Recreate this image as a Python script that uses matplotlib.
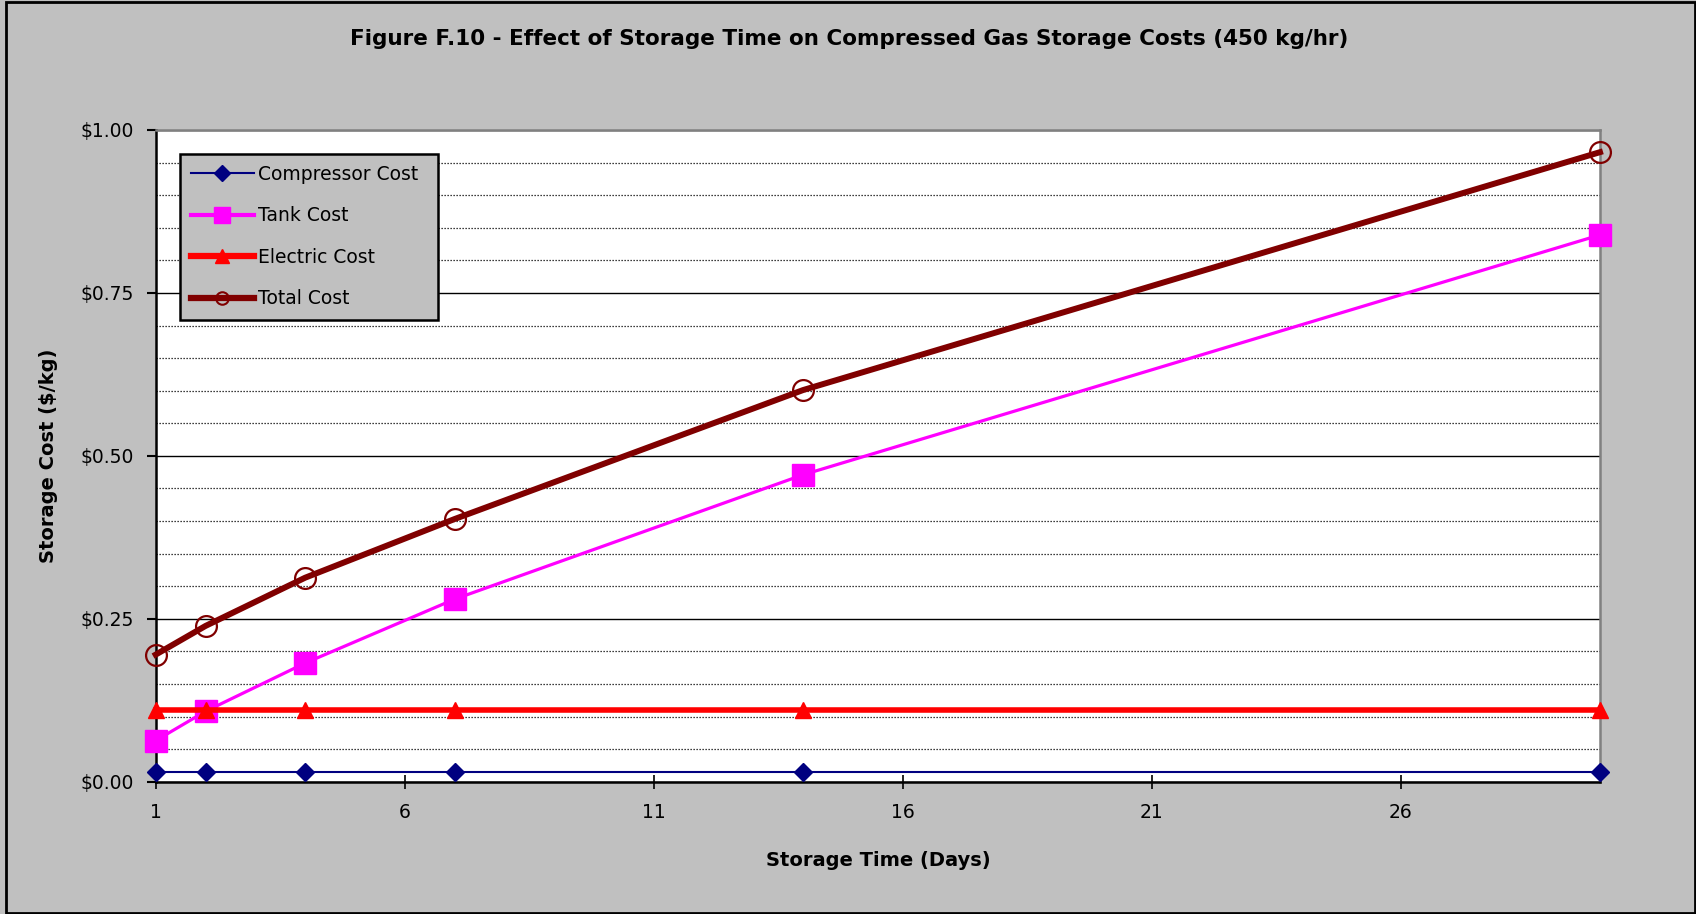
import matplotlib
matplotlib.use("Agg")
import matplotlib.pyplot as plt
from matplotlib.lines import Line2D
from matplotlib.patches import Rectangle
from matplotlib.ticker import FuncFormatter, MultipleLocator

# ---- data ----
storage_days = [1, 2, 4, 7, 14, 30]
compressor_cost = [0.015, 0.015, 0.015, 0.015, 0.015, 0.015]
tank_cost = [0.063, 0.108, 0.182, 0.280, 0.471, 0.839]
electric_cost = [0.110, 0.110, 0.110, 0.110, 0.110, 0.110]
total_cost = [0.195, 0.239, 0.313, 0.403, 0.601, 0.966]
series_labels = ["Compressor Cost", "Tank Cost", "Electric Cost", "Total Cost"]
x_ticks = [1, 6, 11, 16, 21, 26]
y_ticks = [0.0, 0.25, 0.50, 0.75, 1.00]
title = "Figure F.10 - Effect of Storage Time on Compressed Gas Storage Costs (450 kg/hr)"
x_label = "Storage Time (Days)"
y_label = "Storage Cost ($/kg)"

plt.rcParams['font.family'] = ['DejaVu Sans']

W, H = 1696, 914
fig = plt.figure(figsize=(W / 100, H / 100), dpi=100)
fig.patch.set_facecolor('#C0C0C0')

# axes placement (pixels)
L, R, T, B = 155.7, 1600, 130, 781.7
ax = fig.add_axes([L / W, 1 - B / H, (R - L) / W, (B - T) / H])
ax.set_facecolor('white')

# grid
ax.set_xlim(1, 30)
ax.set_ylim(0, 1.0)
ax.set_yticks(y_ticks)
ax.yaxis.set_minor_locator(MultipleLocator(0.05))
ax.set_xticks(x_ticks)
ax.grid(which='minor', axis='y', color='black', linestyle=(0, (1.0, 1.4)), linewidth=0.9)
ax.grid(which='major', axis='y', color='black', linestyle='-', linewidth=1.0)
ax.grid(which='major', axis='x', visible=False)
ax.set_axisbelow(True)

# series (drawn in order, later ones on top)
ax.plot(storage_days, compressor_cost, color='#000080', linewidth=1.5, marker='D',
        markersize=9, markerfacecolor='#000080', markeredgecolor='#000080',
        clip_on=False, zorder=3, label=series_labels[0])
ax.plot(storage_days, tank_cost, color='#FF00FF', linewidth=2.3, marker='s',
        markersize=16, markerfacecolor='#FF00FF', markeredgecolor='#FF00FF',
        clip_on=False, zorder=4, label=series_labels[1])
ax.plot(storage_days, electric_cost, color='#FF0000', linewidth=4.0, marker='^',
        markersize=12, markerfacecolor='#FF0000', markeredgecolor='#FF0000',
        clip_on=False, zorder=5, label=series_labels[2])
ax.plot(storage_days, total_cost, color='#800000', linewidth=4.3, marker='o',
        markersize=15, markerfacecolor='none', markeredgecolor='#800000',
        markeredgewidth=1.6, clip_on=False, zorder=6, label=series_labels[3])

# spines
for s in ['left', 'bottom']:
    ax.spines[s].set_color('black')
    ax.spines[s].set_linewidth(1.8)
for s in ['top', 'right']:
    ax.spines[s].set_color('#808080')
    ax.spines[s].set_linewidth(1.8)

# ticks
ax.yaxis.set_major_formatter(FuncFormatter(lambda v, p: "${:.2f}".format(v)))
ax.tick_params(axis='y', which='major', direction='out', length=6.5, width=1.5,
               pad=9, labelsize=13.5, colors='black')
ax.tick_params(axis='y', which='minor', length=0)
ax.tick_params(axis='x', which='major', direction='inout', length=10, width=1.2,
               pad=10, labelsize=13.5, colors='black')

# labels
ax.set_xlabel(x_label, fontsize=14, fontweight='bold', va='center')
ax.xaxis.set_label_coords(0.5, -(860 - B) / (B - T))
ax.set_ylabel(y_label, fontsize=14, fontweight='bold', va='center')
ax.yaxis.set_label_coords((48.7 - L) / (R - L), 0.5)

fig.text(849 / W, 1 - 39 / H, title, ha='center', va='center',
         fontsize=15.5, fontweight='bold')

# legend with proxy handles (smaller markers as in reference legend)
handles = [
    Line2D([], [], color='#000080', linewidth=1.5, marker='D', markersize=8,
           markerfacecolor='#000080', markeredgecolor='#000080'),
    Line2D([], [], color='#FF00FF', linewidth=3.0, marker='s', markersize=11,
           markerfacecolor='#FF00FF', markeredgecolor='#FF00FF'),
    Line2D([], [], color='#FF0000', linewidth=4.5, marker='^', markersize=10,
           markerfacecolor='#FF0000', markeredgecolor='#FF0000'),
    Line2D([], [], color='#800000', linewidth=4.5, marker='o', markersize=9,
           markerfacecolor='none', markeredgecolor='#800000', markeredgewidth=1.5),
]
lx0, lx1, ly0, ly1 = 179.5, 438, 153.6, 323.4
leg = fig.legend(handles, series_labels, loc='upper left',
                 bbox_to_anchor=(lx0 / W, 1 - ly1 / H, (lx1 - lx0) / W, (ly1 - ly0) / H),
                 bbox_transform=fig.transFigure, mode='expand',
                 fontsize=13.5, frameon=True, fancybox=False, shadow=False,
                 borderaxespad=0, borderpad=0.6, labelspacing=1.2,
                 handlelength=3.35, handletextpad=0.25, framealpha=1)
leg.get_frame().set_facecolor('#C0C0C0')
leg.get_frame().set_edgecolor('black')
leg.get_frame().set_linewidth(1.8)
leg.set_zorder(10)

# outer border of the chart
fig.patches.append(Rectangle((6 / W, 1 / H), (W - 7) / W, (H - 3) / H,
                             transform=fig.transFigure, fill=False,
                             edgecolor='black', linewidth=2.0))

fig.savefig('out.png', dpi=100, facecolor=fig.get_facecolor())
